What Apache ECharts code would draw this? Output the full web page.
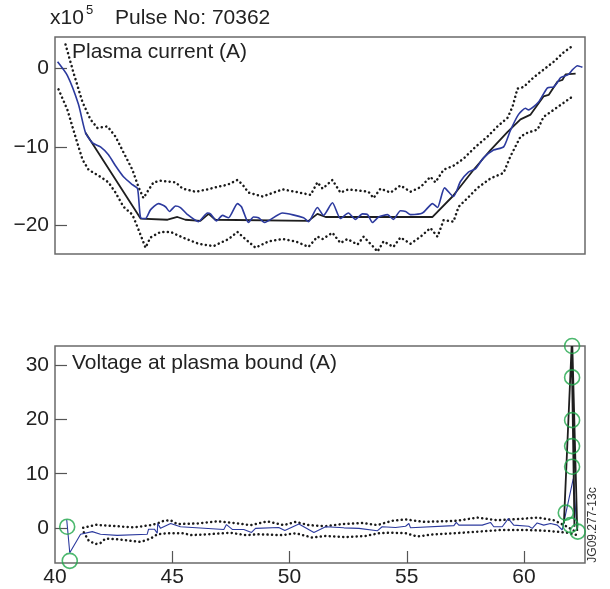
<!DOCTYPE html>
<html>
<head>
<meta charset="utf-8">
<title>Pulse No: 70362</title>
<script src="https://cdn.jsdelivr.net/npm/echarts@6/dist/echarts.min.js"></script>
<style>
  html, body { margin: 0; padding: 0; background: #fff; }
  #chart { width: 610px; height: 589px; }
</style>
</head>
<body>
<div id="chart"></div>
<script>
// Time axis (s) shared by both panels
const timeTicks = [40, 45, 50, 55, 60];
const timeTickMarks = [45, 50, 55, 60];
const currentTicks = [0, -10, -20];      // x10^5 A
const voltageTicks = [0, 10, 20, 30];

// Plasma current: reference waveform
const currentRef = [
  [41.30, -8.2], [43.65, -19.1], [44.80, -19.25], [45.22, -18.9], [45.56, -19.25],
  [46.20, -19.4], [46.55, -18.5], [46.84, -19.25], [50.81, -19.4], [51.19, -18.5],
  [51.54, -18.9], [56.10, -18.9], [56.95, -16.3], [57.85, -12.9], [58.57, -10.4],
  [59.30, -8.1], [59.85, -6.5], [60.28, -5.9], [60.83, -3.6], [61.05, -3.4],
  [61.43, -1.7], [61.64, -1.5], [61.77, -0.8], [62.20, -0.7]
];

// Plasma current: measured
const currentMeas = [
  [40.11, 0.8], [40.53, -0.95], [41.00, -4.6], [41.30, -8.2], [41.60, -9.5],
  [41.94, -10.0], [42.28, -11.0], [42.58, -12.4], [42.92, -13.8], [43.30, -14.8],
  [43.52, -15.3], [43.65, -19.0], [43.86, -19.1], [44.07, -18.0], [44.41, -17.2],
  [44.71, -17.6], [44.88, -18.2], [45.14, -17.5], [45.35, -17.7], [45.65, -18.6],
  [46.12, -19.5], [46.50, -18.4], [46.63, -18.5], [46.89, -19.4], [47.14, -18.7],
  [47.40, -19.0], [47.78, -17.2], [47.95, -17.6], [48.25, -19.6], [48.46, -18.9],
  [48.68, -19.0], [48.93, -19.6], [49.70, -18.4], [50.60, -19.0], [50.81, -19.5],
  [51.19, -17.7], [51.45, -18.7], [51.83, -17.1], [52.17, -19.1], [52.51, -18.4],
  [52.81, -19.2], [53.11, -18.5], [53.33, -18.6], [53.54, -19.6], [53.80, -18.9],
  [54.18, -18.6], [54.43, -19.2], [54.73, -18.1], [54.95, -18.2], [55.16, -18.6],
  [55.67, -18.4], [56.10, -17.2], [56.31, -17.7], [56.61, -15.2], [56.99, -16.3],
  [57.29, -14.4], [57.63, -13.2], [57.93, -12.8], [58.27, -11.4], [58.70, -10.4],
  [59.13, -10.0], [59.42, -7.9], [59.76, -5.9], [60.06, -5.1], [60.19, -5.3],
  [60.62, -4.3], [61.00, -2.5], [61.26, -2.4], [61.43, -1.8], [61.56, -1.2],
  [61.90, -0.8], [62.07, -0.2], [62.28, 0.3], [62.49, 0.1]
];

// Plasma current: upper bound
const currentUpper = [
  [40.45, 3.0], [40.79, -0.6], [41.17, -4.3], [41.51, -6.5], [41.81, -7.6],
  [42.24, -7.4], [42.58, -8.7], [42.92, -10.7], [43.30, -12.9], [43.56, -15.1],
  [43.77, -16.5], [43.94, -15.7], [44.20, -14.5], [44.50, -14.3], [44.80, -14.4],
  [45.14, -14.5], [45.44, -15.3], [45.99, -15.7], [46.50, -15.4], [46.76, -15.2],
  [47.36, -14.8], [47.78, -14.2], [48.00, -14.8], [48.25, -15.8], [48.85, -16.3],
  [49.70, -15.4], [50.26, -15.7], [50.90, -16.1], [51.19, -14.5], [51.41, -15.3],
  [51.83, -14.2], [52.17, -15.8], [52.51, -15.4], [53.37, -15.7], [53.58, -16.5],
  [53.88, -15.3], [54.31, -15.8], [54.73, -14.9], [55.16, -15.7], [55.59, -15.1],
  [56.01, -13.8], [56.22, -14.5], [56.57, -12.9], [56.99, -12.4], [57.42, -11.5],
  [57.93, -10.0], [58.44, -8.7], [58.87, -7.4], [59.30, -6.3], [59.51, -4.9],
  [59.72, -2.6], [59.98, -2.4], [60.40, -1.2], [60.83, -0.2], [61.26, 0.8],
  [61.69, 2.0], [62.11, 2.9]
];

// Plasma current: lower bound
const currentLower = [
  [40.15, -2.7], [40.53, -5.3], [40.87, -8.7], [41.17, -11.6], [41.43, -12.9],
  [41.94, -13.8], [42.28, -14.5], [42.58, -15.8], [42.92, -17.6], [43.30, -18.6],
  [43.56, -20.5], [43.86, -22.8], [44.07, -21.5], [44.50, -20.8], [44.93, -20.8],
  [45.44, -21.5], [46.12, -22.3], [46.76, -22.6], [47.40, -21.7], [47.78, -20.8],
  [48.00, -21.4], [48.55, -22.8], [49.10, -22.0], [49.70, -21.7], [50.26, -22.0],
  [50.81, -22.7], [51.19, -21.4], [51.41, -21.7], [51.83, -20.9], [52.17, -22.2],
  [52.47, -21.7], [52.90, -22.4], [53.16, -21.4], [53.58, -22.7], [53.75, -23.3],
  [54.01, -22.0], [54.43, -22.7], [54.73, -21.5], [55.16, -22.3], [55.59, -21.4],
  [56.01, -20.3], [56.31, -21.4], [56.57, -19.3], [56.99, -19.5], [57.21, -17.6],
  [57.59, -16.5], [58.02, -15.2], [58.57, -14.0], [59.13, -13.3], [59.42, -11.2],
  [59.85, -8.7], [60.15, -8.2], [60.58, -7.8], [60.83, -6.2], [61.26, -5.3],
  [61.69, -4.4], [62.07, -3.6]
];

// Voltage at plasma boundary: measured
const voltageMeas = [
  [40.50, 1.5], [40.63, -4.6], [41.09, -1.2], [41.59, -0.7], [41.94, -1.2],
  [42.65, -1.4], [43.93, -1.2], [43.99, -0.25], [44.24, -0.25], [44.36, -1.0],
  [44.38, 0.8], [44.50, -0.1], [44.93, 0.8], [45.35, 0.2], [47.20, -0.3],
  [47.31, 0.6], [47.56, -0.3], [48.05, -0.3], [48.38, -0.85], [48.55, -0.1],
  [49.54, 0.07], [49.80, -0.5], [50.40, 0.7], [51.04, -0.85], [51.54, 0.2],
  [52.32, 0.0], [52.96, -0.1], [53.74, -0.55], [53.95, 0.2], [54.52, 0.07],
  [54.95, 0.3], [55.09, 0.8], [55.16, 0.0], [57.01, 0.4], [57.11, 1.0],
  [57.22, 0.5], [58.22, 0.5], [58.57, 1.0], [58.71, 0.2], [59.07, 0.2],
  [59.33, 1.7], [59.56, 0.5], [60.20, 0.3], [60.35, -0.1], [60.56, 0.9],
  [60.84, 0.5], [61.13, 0.8], [61.42, 0.5], [61.63, -0.4], [62.10, 9.1],
  [62.24, 0.8]
];

// Voltage at plasma boundary: reference spike
const voltageRef = [
  [61.70, 0.8], [62.03, 33.6], [62.15, 0.2], [62.06, 33.6], [62.27, -0.6]
];

// Voltage at plasma boundary: upper bound
const voltageUpper = [
  [41.20, 0.0], [41.80, 0.6], [41.94, 0.5], [42.65, 0.3], [43.36, 0.07],
  [44.07, 0.5], [44.36, 0.8], [44.64, 1.3], [44.93, 1.4], [45.21, 0.7],
  [46.06, 0.8], [46.92, 1.2], [47.62, 0.9], [48.34, 0.5], [49.05, 1.2],
  [49.76, 0.5], [50.26, 1.1], [50.82, 0.5], [51.54, 0.3], [52.25, 0.7],
  [53.10, 0.9], [53.74, 0.5], [54.38, 1.3], [54.95, 1.55], [55.73, 1.1],
  [57.15, 1.3], [58.00, 1.9], [58.86, 1.4], [59.71, 1.6], [60.56, 1.9],
  [61.27, 1.4], [61.84, 0.2], [62.12, -0.5]
];

// Voltage at plasma boundary: lower bound
const voltageLower = [
  [41.23, -0.85], [41.44, -2.4], [41.73, -3.0], [41.94, -2.8], [42.15, -2.0],
  [42.65, -2.1], [43.22, -2.4], [43.65, -2.6], [44.07, -2.0], [44.36, -1.2],
  [44.78, -1.0], [45.49, -1.0], [45.78, -1.35], [46.49, -1.2], [47.48, -0.9],
  [48.12, -1.35], [48.69, -1.2], [49.69, -1.35], [50.26, -1.0], [50.97, -1.8],
  [51.54, -1.5], [52.39, -1.7], [53.24, -1.5], [53.81, -1.0], [54.38, -0.9],
  [54.95, -1.0], [55.45, -1.6], [56.15, -1.2], [57.58, -0.85], [59.00, -0.4],
  [60.14, -0.4], [60.99, -0.55], [61.84, -0.9], [62.27, -1.35]
];

// Flagged samples (outliers)
const voltageFlags = [
  [40.52, 0.2], [40.63, -6.1], [62.05, 33.6], [62.05, 27.8], [62.05, 19.9],
  [62.05, 15.1], [62.05, 11.3], [61.78, 2.8], [61.98, 0.5], [62.29, -0.7]
];

const FONT = 'Liberation Sans, Arial, Helvetica, sans-serif';
const minus = v => (v < 0 ? '\u2212' + Math.abs(v) : String(v));
const dotted = { width: 2.5, color: '#1a1a1a', type: [0.1, 4.4], cap: 'round' };

const chart = echarts.init(document.getElementById('chart'), null, { renderer: 'canvas' });

const gridBase = { left: 55, width: 530, height: 217, show: true, borderColor: '#6a6a6a', borderWidth: 1.5, backgroundColor: 'transparent' };

function yAxisCfg(idx, min, max, ticks) {
  return {
    type: 'value', gridIndex: idx, min: min, max: max,
    splitLine: { show: false },
    axisLine: { show: false, onZero: false },
    axisTick: { show: true, inside: true, length: 12, customValues: ticks, lineStyle: { color: '#555', width: 1.2 } },
    axisLabel: { customValues: ticks, formatter: minus, color: '#222', fontSize: 21, fontFamily: FONT, margin: 6 }
  };
}

function line(data, xi, style, z, smooth) {
  return { type: 'line', xAxisIndex: xi, yAxisIndex: xi, data: data, showSymbol: false, symbol: 'none', lineStyle: style, z: z, smooth: smooth || false, animation: false, silent: true };
}

chart.setOption({
  animation: false,
  grid: [
    Object.assign({ top: 37 }, gridBase),
    Object.assign({ top: 346 }, gridBase)
  ],
  xAxis: [
    { type: 'value', gridIndex: 0, min: 40, max: 62.6, axisLine: { show: false, onZero: false }, axisTick: { show: false }, axisLabel: { show: false }, splitLine: { show: false } },
    {
      type: 'value', gridIndex: 1, min: 40, max: 62.6, position: 'bottom',
      axisLine: { show: false, onZero: false }, splitLine: { show: false },
      axisTick: { show: true, inside: true, length: 12, customValues: timeTickMarks, lineStyle: { color: '#555', width: 1.2 } },
      axisLabel: { customValues: timeTicks, color: '#222', fontSize: 21, fontFamily: FONT, margin: 4 }
    }
  ],
  yAxis: [
    yAxisCfg(0, -23.6, 3.95, currentTicks),
    yAxisCfg(1, -6.5, 33.6, voltageTicks)
  ],
  graphic: [
    { type: 'text', left: 50, top: 8, style: { text: 'x10', font: '21px ' + FONT, fill: '#222' } },
    { type: 'text', left: 86, top: 4, style: { text: '5', font: '13px ' + FONT, fill: '#222' } },
    { type: 'text', left: 115, top: 8, style: { text: 'Pulse No: 70362', font: '21px ' + FONT, fill: '#222' } },
    { type: 'text', left: 72, top: 42, z: 10, style: { text: 'Plasma current (A)', font: '21px ' + FONT, fill: '#222' } },
    { type: 'text', left: 72, top: 353, z: 10, style: { text: 'Voltage at plasma bound (A)', font: '21px ' + FONT, fill: '#222' } },
    { type: 'text', x: 593, y: 525, rotation: Math.PI / 2, z: 10,
      style: { text: 'JG09.277-13c', font: '12px ' + FONT, fill: '#333', textAlign: 'center', textVerticalAlign: 'middle' } }
  ],
  series: [
    line(currentUpper, 0, dotted, 2),
    line(currentLower, 0, dotted, 2),
    line(currentRef, 0, { width: 1.8, color: '#1e1e1e' }, 3),
    line(currentMeas, 0, { width: 1.6, color: '#2c3a9e' }, 4, 0.2),
    line(voltageUpper, 1, dotted, 2),
    line(voltageLower, 1, dotted, 2),
    line(voltageMeas, 1, { width: 1.1, color: '#2c3a9e' }, 3),
    line(voltageRef, 1, { width: 1.8, color: '#1e1e1e' }, 4),
    {
      type: 'scatter', xAxisIndex: 1, yAxisIndex: 1, data: voltageFlags, symbol: 'circle', symbolSize: 15,
      itemStyle: { color: 'rgba(0,0,0,0)', borderColor: '#1fa64a', borderWidth: 1.6 }, z: 5, clip: false, silent: true
    }
  ]
});
</script>
</body>
</html>
